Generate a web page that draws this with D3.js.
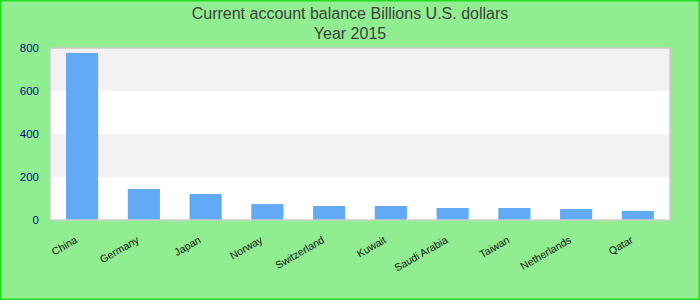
<!DOCTYPE html>
<html><head><meta charset="utf-8">
<script src="https://cdn.jsdelivr.net/npm/d3@7"></script>
<style>html,body{margin:0;padding:0;background:#90ee90;}svg{display:block;}</style>
</head><body>
<svg id="c" width="700" height="300"></svg>
<script>
const categories = ["China","Germany","Japan","Norway","Switzerland","Kuwait","Saudi Arabia","Taiwan","Netherlands","Qatar"];
const values = [777, 144, 121, 74, 65, 65, 56, 56, 51, 42];
const yTicks = [0, 200, 400, 600, 800];
const titleLines = ["Current account balance Billions U.S. dollars", "Year 2015"];

const svg = d3.select("#c");
const W = 700, H = 300;
const m = {left: 50, right: 30, top: 48, bottom: 80};
svg.append("rect").attr("x",0.75).attr("y",0.75).attr("width",W-1.5).attr("height",H-1.5)
  .attr("fill","#90ee90").attr("stroke","#1ee01e").attr("stroke-width",1.5);

const x = d3.scaleBand().domain(categories).range([m.left, W - m.right]).paddingInner(0.48).paddingOuter(0.26);
const y = d3.scaleLinear().domain([0, 800]).range([H - m.bottom, m.top]);

// bands
const bandPairs = d3.pairs(yTicks);
svg.append("g").selectAll("rect").data(bandPairs).join("rect")
  .attr("x", m.left).attr("width", W - m.right - m.left)
  .attr("y", d => y(d[1])).attr("height", d => y(d[0]) - y(d[1]))
  .attr("fill", (d,i) => i % 2 === 0 ? "#ffffff" : "#f2f2f2");

// bars
svg.append("g").selectAll("rect").data(categories).join("rect")
  .attr("x", d => x(d)).attr("width", x.bandwidth())
  .attr("y", (d,i) => y(values[i])).attr("height", (d,i) => y(0) - y(values[i]))
  .attr("fill", "#62aaf4");

// plot border
svg.append("rect").attr("x", m.left).attr("y", m.top)
  .attr("width", W - m.right - m.left).attr("height", y(0) - m.top)
  .attr("fill","none").attr("stroke","#cccccc").attr("stroke-width",1.5);

// y axis
const ya = svg.append("g").attr("transform", `translate(${m.left},0)`)
  .call(d3.axisLeft(y).tickValues(yTicks).tickSize(0).tickPadding(11));
ya.select(".domain").remove();
ya.selectAll("text").attr("fill","#0c0c88").attr("font-family","Liberation Sans, Arial, sans-serif").attr("font-size",11.5);

// x axis labels
const xa = svg.append("g").attr("transform", `translate(0,${y(0)})`)
  .call(d3.axisBottom(x).tickSize(0).tickPadding(0));
xa.select(".domain").remove();
xa.selectAll("text")
  .attr("font-family","Liberation Sans, Arial, sans-serif").attr("font-size",10.5).attr("fill","#111")
  .attr("text-anchor","end").attr("dy",0).attr("y",0)
  .attr("transform","translate(-4,22) rotate(-30)");

// title
svg.append("g").selectAll("text").data(titleLines).join("text")
  .attr("x", W/2).attr("y", (d,i) => 19 + i*20)
  .attr("text-anchor","middle").attr("fill","#404040")
  .attr("font-family","Liberation Sans, Arial, sans-serif").attr("font-size",16)
  .text(d => d);
</script>
</body></html>
